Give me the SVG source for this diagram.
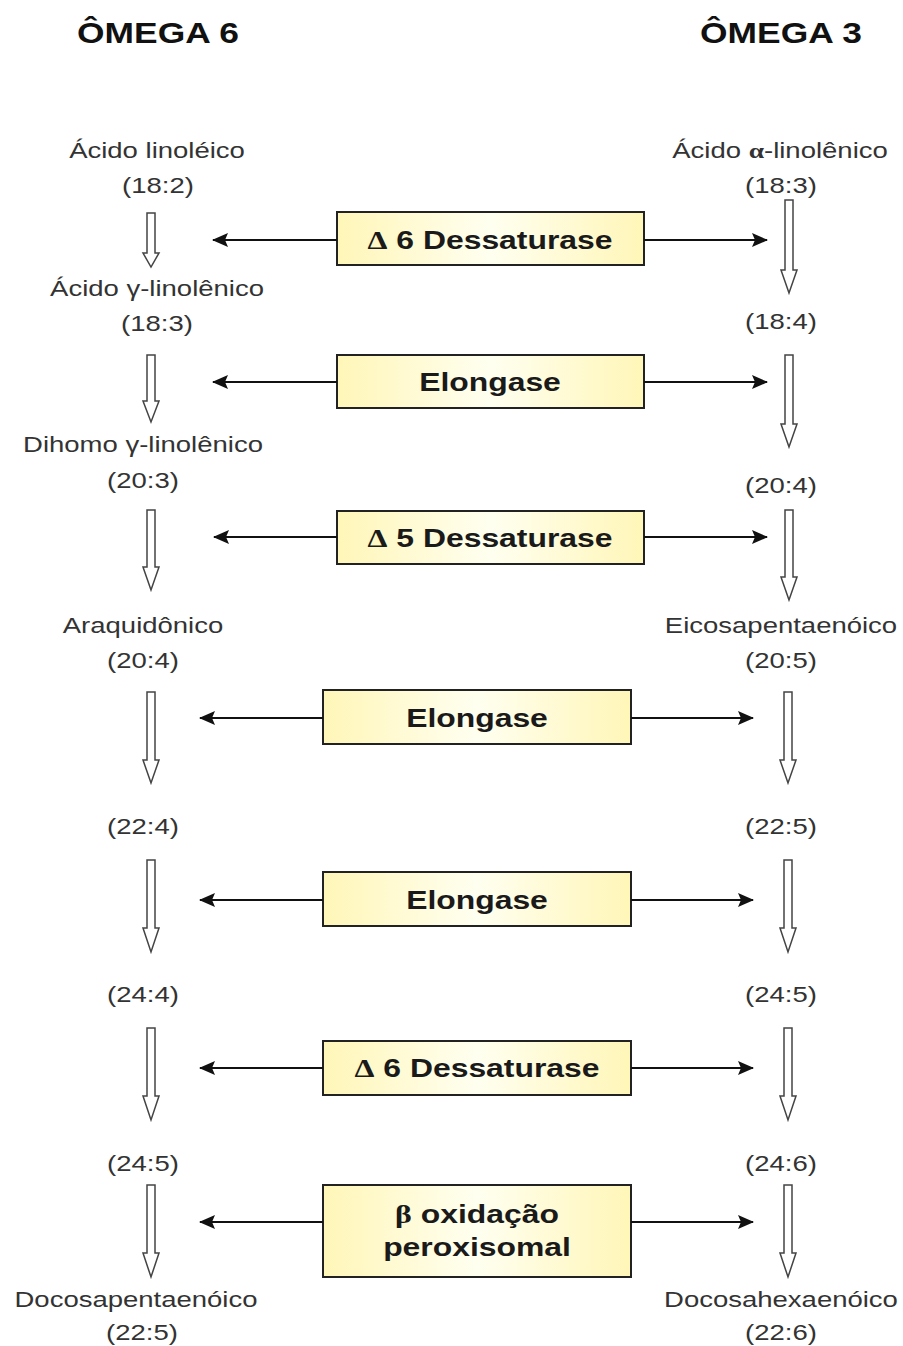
<svg xmlns="http://www.w3.org/2000/svg" width="903" height="1346" viewBox="0 0 903 1346">
<style>
.hdr{font-family:"Liberation Sans",Arial,sans-serif;font-weight:bold;font-size:29px;fill:#111;text-anchor:middle}
.lbl{font-family:"Liberation Sans",Arial,sans-serif;font-size:22px;fill:#333;text-anchor:middle}
.btx{font-family:"Liberation Sans",Arial,sans-serif;font-weight:bold;font-size:25.5px;fill:#1a1a1a;text-anchor:middle}
.sym{font-family:"Liberation Serif","Times New Roman",serif;font-weight:bold}
.box{fill:url(#yg);stroke:#222;stroke-width:2}
.hol{fill:#fff;stroke:#444;stroke-width:1.5;stroke-linejoin:miter}
.con{stroke:#111;stroke-width:2.2;fill:none;marker-end:url(#ah)}
</style>
<defs>
<linearGradient id="yg" x1="0" y1="0" x2="1" y2="0">
<stop offset="0" stop-color="#fff6b8"/>
<stop offset="0.5" stop-color="#fffff0"/>
<stop offset="1" stop-color="#fff6b8"/>
</linearGradient>
<marker id="ah" viewBox="0 0 16 14" refX="15" refY="7" markerWidth="16" markerHeight="14" markerUnits="userSpaceOnUse" orient="auto">
<path d="M0,0 L16,7 L0,14 L3,7 Z" fill="#111"/>
</marker>
</defs>
<rect width="903" height="1346" fill="#fff"/>

<g id="headers">
<text class="hdr" transform="translate(158,43) scale(1.22,1)">ÔMEGA 6</text>
<text class="hdr" transform="translate(781,43) scale(1.22,1)">ÔMEGA 3</text>
</g>

<g id="left-labels">
<g id="n-l1"><text class="lbl" transform="translate(157,158) scale(1.25,1)">Ácido linoléico</text><text class="lbl" transform="translate(158,193) scale(1.25,1)">(18:2)</text></g>
<g id="n-l2"><text class="lbl" transform="translate(157,296) scale(1.25,1)">Ácido γ-linolênico</text><text class="lbl" transform="translate(157,331) scale(1.25,1)">(18:3)</text></g>
<g id="n-l3"><text class="lbl" transform="translate(143,452) scale(1.25,1)">Dihomo γ-linolênico</text><text class="lbl" transform="translate(143,488) scale(1.25,1)">(20:3)</text></g>
<g id="n-l4"><text class="lbl" transform="translate(143,633) scale(1.25,1)">Araquidônico</text><text class="lbl" transform="translate(143,668) scale(1.25,1)">(20:4)</text></g>
<g id="n-l5"><text class="lbl" transform="translate(143,834) scale(1.25,1)">(22:4)</text></g>
<g id="n-l6"><text class="lbl" transform="translate(143,1002) scale(1.25,1)">(24:4)</text></g>
<g id="n-l7"><text class="lbl" transform="translate(143,1171) scale(1.25,1)">(24:5)</text></g>
<g id="n-l8"><text class="lbl" transform="translate(136,1307) scale(1.25,1)">Docosapentaenóico</text><text class="lbl" transform="translate(142,1340) scale(1.25,1)">(22:5)</text></g>
</g>

<g id="right-labels">
<g id="n-r1"><text class="lbl" transform="translate(780,158) scale(1.25,1)">Ácido <tspan class="sym">α</tspan>-linolênico</text><text class="lbl" transform="translate(781,193) scale(1.25,1)">(18:3)</text></g>
<g id="n-r2"><text class="lbl" transform="translate(781,329) scale(1.25,1)">(18:4)</text></g>
<g id="n-r3"><text class="lbl" transform="translate(781,493) scale(1.25,1)">(20:4)</text></g>
<g id="n-r4"><text class="lbl" transform="translate(781,633) scale(1.25,1)">Eicosapentaenóico</text><text class="lbl" transform="translate(781,668) scale(1.25,1)">(20:5)</text></g>
<g id="n-r5"><text class="lbl" transform="translate(781,834) scale(1.25,1)">(22:5)</text></g>
<g id="n-r6"><text class="lbl" transform="translate(781,1002) scale(1.25,1)">(24:5)</text></g>
<g id="n-r7"><text class="lbl" transform="translate(781,1171) scale(1.25,1)">(24:6)</text></g>
<g id="n-r8"><text class="lbl" transform="translate(781,1307) scale(1.25,1)">Docosahexaenóico</text><text class="lbl" transform="translate(781,1340) scale(1.25,1)">(22:6)</text></g>
</g>

<g id="enzymes">
<g id="e1"><rect class="box" x="337" y="212" width="307" height="53"/><text class="btx" transform="translate(490,249) scale(1.25,1)"><tspan class="sym">Δ</tspan> 6 Dessaturase</text></g>
<g id="e2"><rect class="box" x="337" y="355" width="307" height="53"/><text class="btx" transform="translate(490,391) scale(1.25,1)">Elongase</text></g>
<g id="e3"><rect class="box" x="337" y="511" width="307" height="53"/><text class="btx" transform="translate(490,547) scale(1.25,1)"><tspan class="sym">Δ</tspan> 5 Dessaturase</text></g>
<g id="e4"><rect class="box" x="323" y="690" width="308" height="54"/><text class="btx" transform="translate(477,727) scale(1.25,1)">Elongase</text></g>
<g id="e5"><rect class="box" x="323" y="872" width="308" height="54"/><text class="btx" transform="translate(477,909) scale(1.25,1)">Elongase</text></g>
<g id="e6"><rect class="box" x="323" y="1041" width="308" height="54"/><text class="btx" transform="translate(477,1077) scale(1.25,1)"><tspan class="sym">Δ</tspan> 6 Dessaturase</text></g>
<g id="e7"><rect class="box" x="323" y="1185" width="308" height="92"/><text class="btx" transform="translate(477,1223) scale(1.25,1)"><tspan class="sym">β</tspan> oxidação</text><text class="btx" transform="translate(477,1256) scale(1.25,1)">peroxisomal</text></g>
</g>

<g id="connectors">
<g id="hollow-arrows">
<path class="hol" d="M147,213 H155 V253 H159 L151,267 L143,253 H147 Z"/>
<path class="hol" d="M147,355 H155 V401 H159 L151,422 L143,401 H147 Z"/>
<path class="hol" d="M147,510 H155 V567 H159 L151,590 L143,567 H147 Z"/>
<path class="hol" d="M147,692 H155 V760 H159 L151,783 L143,760 H147 Z"/>
<path class="hol" d="M147,860 H155 V928 H159 L151,952 L143,928 H147 Z"/>
<path class="hol" d="M147,1028 H155 V1096 H159 L151,1120 L143,1096 H147 Z"/>
<path class="hol" d="M147,1185 H155 V1253 H159 L151,1277 L143,1253 H147 Z"/>
<path class="hol" d="M785,200 H793 V270 H797 L789,293 L781,270 H785 Z"/>
<path class="hol" d="M785,355 H793 V424 H797 L789,447 L781,424 H785 Z"/>
<path class="hol" d="M785,510 H793 V577 H797 L789,600 L781,577 H785 Z"/>
<path class="hol" d="M784,692 H792 V760 H796 L788,783 L780,760 H784 Z"/>
<path class="hol" d="M784,860 H792 V928 H796 L788,952 L780,928 H784 Z"/>
<path class="hol" d="M784,1028 H792 V1096 H796 L788,1120 L780,1096 H784 Z"/>
<path class="hol" d="M784,1185 H792 V1253 H796 L788,1277 L780,1253 H784 Z"/>
</g>
<g id="enzyme-arrows">
<line class="con" x1="337" y1="240" x2="213" y2="240"/>
<line class="con" x1="644" y1="240" x2="767" y2="240"/>
<line class="con" x1="337" y1="382" x2="213" y2="382"/>
<line class="con" x1="644" y1="382" x2="767" y2="382"/>
<line class="con" x1="337" y1="537" x2="214" y2="537"/>
<line class="con" x1="644" y1="537" x2="767" y2="537"/>
<line class="con" x1="323" y1="718" x2="200" y2="718"/>
<line class="con" x1="631" y1="718" x2="753" y2="718"/>
<line class="con" x1="323" y1="900" x2="200" y2="900"/>
<line class="con" x1="631" y1="900" x2="753" y2="900"/>
<line class="con" x1="323" y1="1068" x2="200" y2="1068"/>
<line class="con" x1="631" y1="1068" x2="753" y2="1068"/>
<line class="con" x1="323" y1="1222" x2="200" y2="1222"/>
<line class="con" x1="631" y1="1222" x2="753" y2="1222"/>
</g>
</g>
</svg>
